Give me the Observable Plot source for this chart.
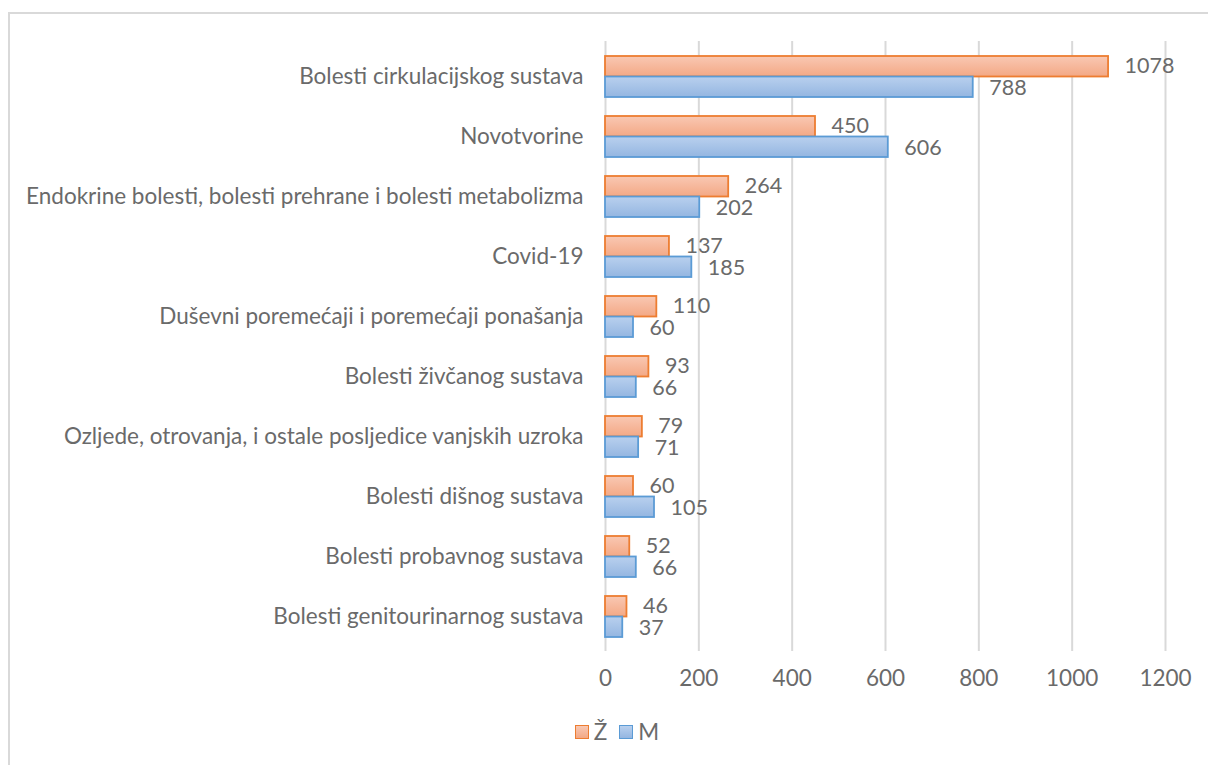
<!DOCTYPE html>
<html>
<head>
<meta charset="utf-8">
<script src="https://cdn.jsdelivr.net/npm/d3@7"></script>
<script src="https://cdn.jsdelivr.net/npm/@observablehq/plot@0.6"></script>
<style>
  html, body { margin: 0; padding: 0; background: #fff; }
  body { width: 1208px; height: 765px; position: relative; overflow: hidden; font-family: Lato, "Open Sans", sans-serif; }
  #frame { position: absolute; left: 8px; top: 12px; width: 1300px; height: 900px; border: 2px solid #d9d9d9; box-sizing: border-box; }
  #chart { position: absolute; left: 0; top: 0; }
  #legend { position: absolute; left: 0; top: 718px; width: 1208px; display: flex; justify-content: center; align-items: center; gap: 12px; padding-left: 26px; box-sizing: border-box; color: #6a6a6a; font-size: 22.5px; }
  .item { display: flex; align-items: center; gap: 5px; }
  .sw { width: 14px; height: 14px; box-sizing: border-box; }
</style>
</head>
<body>
<div id="frame"></div>
<div id="chart"></div>
<div id="legend"></div>
<script>
const categories = [
  "Bolesti cirkulacijskog sustava",
  "Novotvorine",
  "Endokrine bolesti, bolesti prehrane i bolesti metabolizma",
  "Covid-19",
  "Duševni poremećaji i poremećaji ponašanja",
  "Bolesti živčanog sustava",
  "Ozljede, otrovanja, i ostale posljedice vanjskih uzroka",
  "Bolesti dišnog sustava",
  "Bolesti probavnog sustava",
  "Bolesti genitourinarnog sustava"
];
const zValues = [1078, 450, 264, 137, 110, 93, 79, 60, 52, 46];
const mValues = [788, 606, 202, 185, 60, 66, 71, 105, 66, 37];
const seriesNames = ["Ž", "M"];
const xTicks = [0, 200, 400, 600, 800, 1000, 1200];

const zData = categories.map((c, i) => ({cat: c, v: zValues[i]}));
const mData = categories.map((c, i) => ({cat: c, v: mValues[i]}));

const textColor = "#6a6a6a";
const fontSize = 22.5;
const valueSize = 21.5;

const plot = Plot.plot({
  width: 1208,
  height: 700,
  marginLeft: 605,
  marginRight: 43,
  marginTop: 41,
  marginBottom: 49,
  style: { fontFamily: "Lato, 'Open Sans', sans-serif", fontSize: fontSize + "px", color: textColor, background: "transparent" },
  x: { domain: [0, 1200], ticks: xTicks, grid: false, label: null },
  y: { domain: categories, paddingInner: 0.324, paddingOuter: 0.189, label: null },
  marks: [
    Plot.ruleX(xTicks, { stroke: "#d9d9d9", strokeWidth: 2 }),
    Plot.axisX({ ticks: xTicks, tickSize: 0, tickPadding: 19, tickFormat: d => String(d), fontSize: fontSize, fill: textColor, label: null }),
    Plot.axisY({ tickSize: 0, tickPadding: 22, fontSize: fontSize, fill: textColor, label: null }),
    Plot.barX(zData, { x: "v", y: "cat", insetBottom: 20.5, fill: "url(#gradZ)", stroke: "#ed7d31", strokeWidth: 1.8 }),
    Plot.barX(mData, { x: "v", y: "cat", insetTop: 20.5, fill: "url(#gradM)", stroke: "#5b9bd5", strokeWidth: 1.8 }),
    Plot.text(zData, { x: "v", y: "cat", text: d => String(d.v), dy: -10.5, dx: 16, textAnchor: "start", fill: textColor, fontSize: valueSize }),
    Plot.text(mData, { x: "v", y: "cat", text: d => String(d.v), dy: 11, dx: 16, textAnchor: "start", fill: textColor, fontSize: valueSize })
  ]
});

const ns = "http://www.w3.org/2000/svg";
const defs = document.createElementNS(ns, "defs");
function grad(id, top, bottom) {
  const g = document.createElementNS(ns, "linearGradient");
  g.setAttribute("id", id);
  g.setAttribute("x1", "0"); g.setAttribute("y1", "0");
  g.setAttribute("x2", "0"); g.setAttribute("y2", "1");
  [[0, top], [1, bottom]].forEach(([o, c]) => {
    const s = document.createElementNS(ns, "stop");
    s.setAttribute("offset", o);
    s.setAttribute("stop-color", c);
    g.appendChild(s);
  });
  defs.appendChild(g);
}
grad("gradZ", "#f9c8b3", "#f3a885");
grad("gradM", "#b9d0ee", "#94b6e1");
plot.insertBefore(defs, plot.firstChild);
document.getElementById("chart").appendChild(plot);

const legend = document.getElementById("legend");
const legendStyles = [
  { name: seriesNames[0], fill: "linear-gradient(#f9c8b3, #f3a885)", stroke: "#ed7d31" },
  { name: seriesNames[1], fill: "linear-gradient(#b9d0ee, #94b6e1)", stroke: "#5b9bd5" }
];
legendStyles.forEach(s => {
  const item = document.createElement("div");
  item.className = "item";
  const sw = document.createElement("div");
  sw.className = "sw";
  sw.style.background = s.fill;
  sw.style.border = "1.8px solid " + s.stroke;
  const t = document.createElement("span");
  t.textContent = s.name;
  item.appendChild(sw);
  item.appendChild(t);
  legend.appendChild(item);
});
</script>
</body>
</html>
